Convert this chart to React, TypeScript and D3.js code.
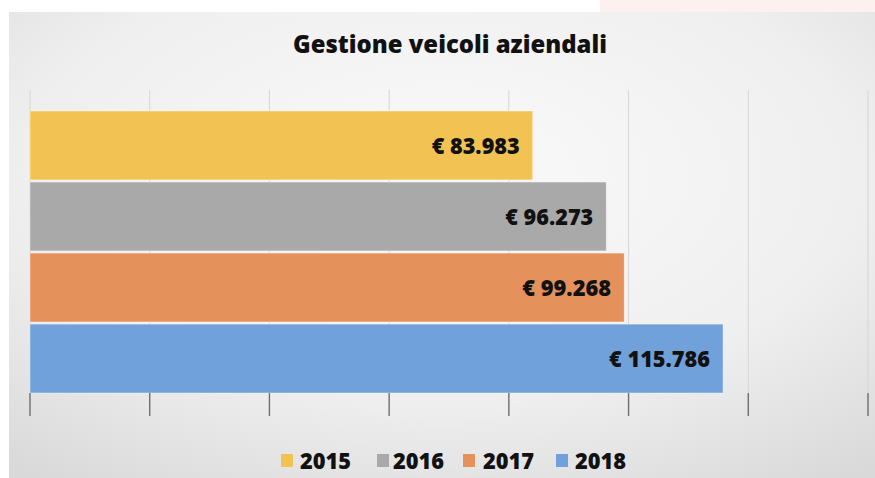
import React from "react";
import * as d3 from "d3";

const years = ["2015", "2016", "2017", "2018"];
const values = [83983, 96273, 99268, 115786];
const labels = ["€ 83.983", "€ 96.273", "€ 99.268", "€ 115.786"];
const colors = ["#f2c352", "#a9a9a9", "#e4915c", "#71a1da"];
const tickValues = [0, 20000, 40000, 60000, 80000, 100000, 120000, 140000];
const title = "Gestione veicoli aziendali";

const W = 875;
const H = 478;
const FONT = "'Open Sans', 'DejaVu Sans', sans-serif";

export default function App() {
  const x = d3.scaleLinear().domain([0, 140000]).range([30, 868]);
  const y = d3.scaleBand<string>().domain(years).range([111, 393]).paddingInner(0.03).paddingOuter(0);

  const labelWidths = [88, 88, 89, 101];
  const legendSquareX = [281, 377, 463, 556];
  const legendTextX = [300, 393, 483, 575];

  return (
    <div style={{ position: "absolute", left: 0, top: 0 }}>
      <svg width={W} height={H} style={{ display: "block" }}>
        <defs>
          <radialGradient id="bg" cx="0.5" cy="0.35" r="0.8">
            <stop offset="0" stopColor="#fafafa" />
            <stop offset="0.6" stopColor="#efefef" />
            <stop offset="1" stopColor="#d9d9d9" />
          </radialGradient>
        </defs>
        <rect x={0} y={0} width={W} height={H} fill="#ffffff" />
        <rect x={600} y={0} width={275} height={12} fill="#fdf0f0" />
        <rect x={9} y={12} width={W - 9} height={H - 12} fill="url(#bg)" />

        {/* gridlines */}
        {tickValues.map((t) => (
          <line key={"g" + t} x1={x(t)} x2={x(t)} y1={90} y2={393} stroke="#d6d6d6" strokeWidth={1} />
        ))}

        {/* bars */}
        {years.map((yr, i) => (
          <rect
            key={yr}
            x={x(0)}
            y={y(yr)}
            width={x(values[i]) - x(0)}
            height={y.bandwidth()}
            fill={colors[i]}
            stroke="#ffffff"
            strokeOpacity={0.5}
            strokeWidth={0.8}
          />
        ))}

        {/* ticks */}
        {tickValues.map((t) => (
          <line key={"t" + t} x1={x(t)} x2={x(t)} y1={393} y2={416} stroke="#6e6e6e" strokeWidth={1.4} />
        ))}

        {/* data labels */}
        {years.map((yr, i) => (
          <text
            key={"l" + yr}
            x={x(values[i]) - 13}
            y={(y(yr) as number) + y.bandwidth() / 2 + 8.5}
            textAnchor="end"
            fontFamily={FONT}
            fontWeight={800}
            fontSize={23.5}
            fill="#111"
            textLength={labelWidths[i]}
            lengthAdjust="spacingAndGlyphs"
          >
            {labels[i]}
          </text>
        ))}

        {/* title */}
        <text
          x={293}
          y={53}
          fontFamily={FONT}
          fontWeight={800}
          fontSize={25.5}
          fill="#111"
          textLength={314}
          lengthAdjust="spacingAndGlyphs"
        >
          {title}
        </text>

        {/* legend */}
        {years.map((yr, i) => (
          <g key={"lg" + yr}>
            <rect x={legendSquareX[i]} y={454} width={12} height={13} fill={colors[i]} />
            <text
              x={legendTextX[i]}
              y={468.5}
              fontFamily={FONT}
              fontWeight={800}
              fontSize={22}
              fill="#111"
              textLength={51}
              lengthAdjust="spacingAndGlyphs"
            >
              {yr}
            </text>
          </g>
        ))}
      </svg>
    </div>
  );
}
